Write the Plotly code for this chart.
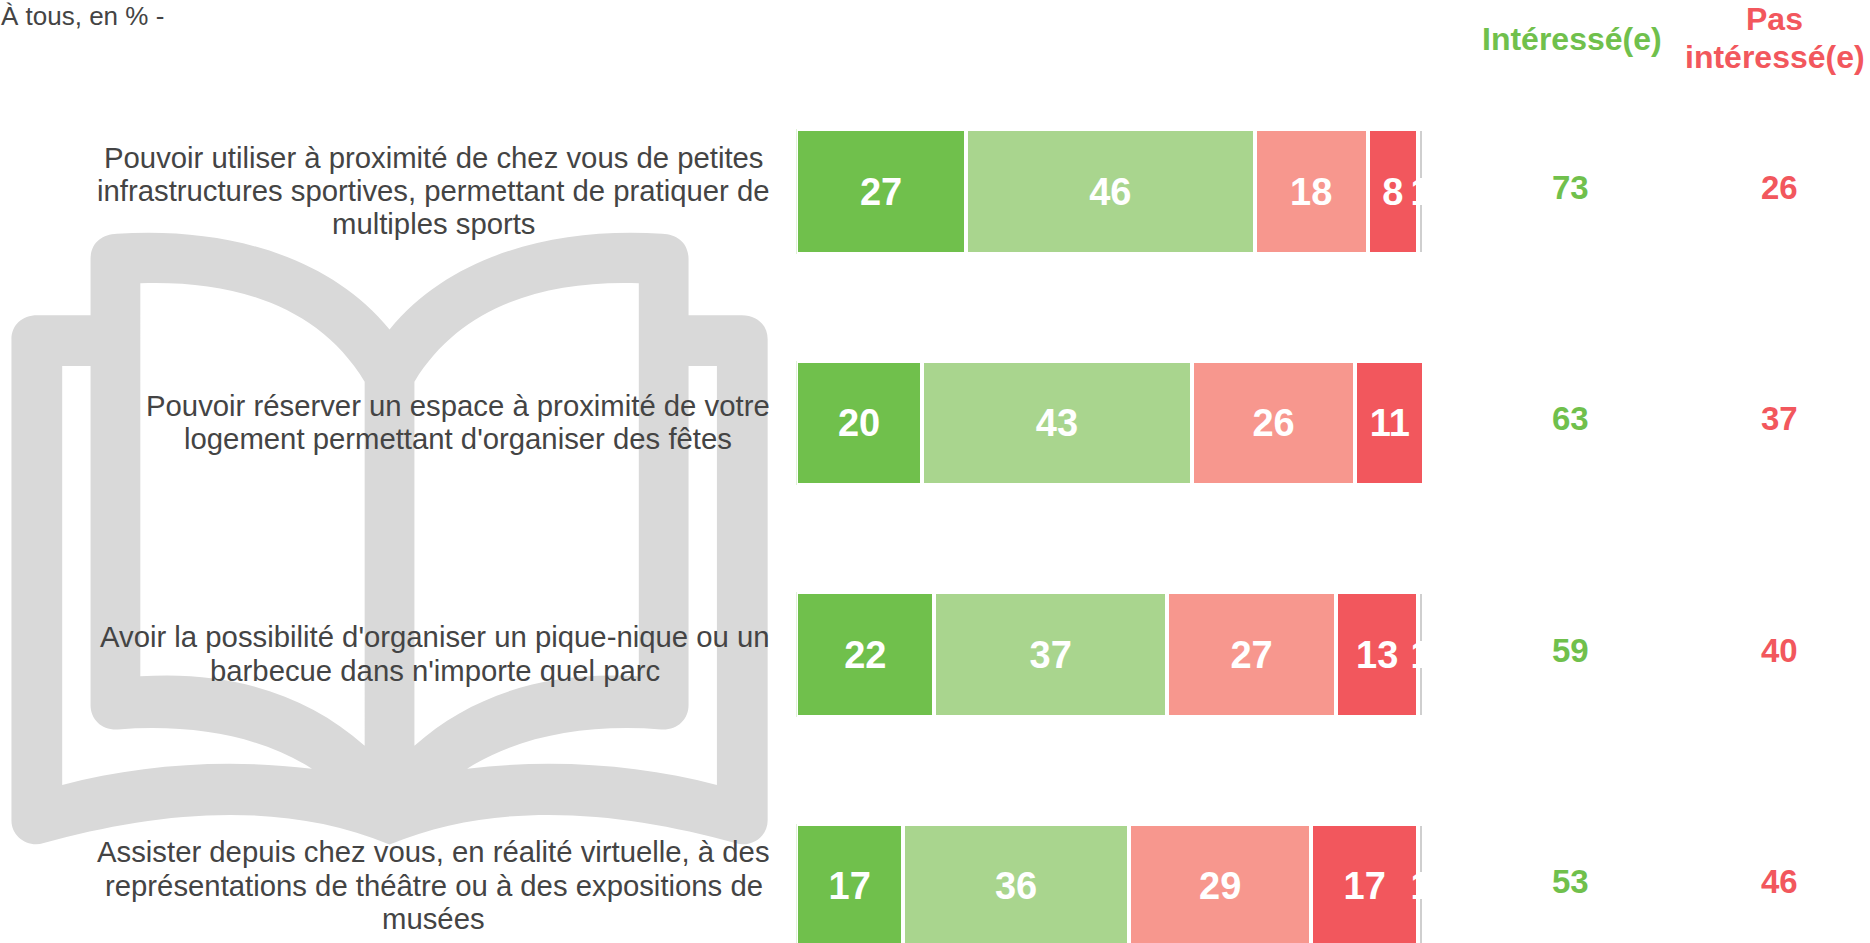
import plotly.graph_objects as go

W, H = 1870, 943
FONT = "Liberation Sans, Arial, sans-serif"
GREY_TXT = "#444444"
GREEN = "#70C04C"
RED = "#F2575D"

categories = [
    ["Pouvoir utiliser à proximité de chez vous de petites",
     "infrastructures sportives, permettant de pratiquer de",
     "multiples sports"],
    ["Pouvoir réserver un espace à proximité de votre",
     "logement permettant d'organiser des fêtes"],
    ["Avoir la possibilité d'organiser un pique-nique ou un",
     "barbecue dans n'importe quel parc"],
    ["Assister depuis chez vous, en réalité virtuelle, à des",
     "représentations de théâtre ou à des expositions de",
     "musées"],
]
label_centres = [433.5, 458.3, 434.7, 433.5]
tout_a_fait = [27, 20, 22, 17]
plutot = [46, 43, 37, 36]
plutot_pas = [18, 26, 27, 29]
pas_du_tout = [8, 11, 13, 17]
nsp = [1, None, 1, 1]
interesse = [73, 63, 59, 53]
pas_interesse = [26, 37, 40, 46]

series = [
    (tout_a_fait, "#70C04C"),
    (plutot, "#A9D58E"),
    (plutot_pas, "#F7978E"),
    (pas_du_tout, "#F2575D"),
    (nsp, "#CFCFCF"),
]

fig = go.Figure()
for vals, col in series:
    fig.add_trace(go.Bar(
        y=list(range(4)), x=vals, orientation="h", marker=dict(color=col, line=dict(color="white", width=4)),
        text=["" if v is None else str(v) for v in vals], textposition="inside",
        insidetextanchor="middle", constraintext="none",
        textfont=dict(family=FONT, size=38, color="white", weight="bold"),
        hoverinfo="skip", cliponaxis=True,
    ))


# ---- decorative book icon, drawn behind everything ----
def pt(zx, zy):
    x = zx / 2.01
    y = 220 + zy / 2.165
    return f"{x / W:.5f},{1 - y / H:.5f}"

def mirror(zx):
    return 1566 - zx

def path(cmds):
    out = []
    for c in cmds:
        out.append(c[0] + " ".join(pt(*p) for p in c[1:]))
    return " ".join(out)

outer = [
    ("M", (75, 206)), ("L", (182, 206)), ("L", (182, 85)),
    ("C", (182, 50), (205, 31), (235, 30)),
    ("C", (450, 15), (660, 75), (783, 237)),
    ("C", (906, 75), (1116, 15), (1331, 30)),
    ("C", (1361, 31), (1384, 50), (1384, 85)),
    ("L", (1384, 206)), ("L", (1491, 206)),
    ("C", (1522, 206), (1543, 228), (1543, 258)),
    ("L", (1543, 1300)),
    ("C", (1543, 1335), (1510, 1360), (1478, 1349)),
    ("C", (1250, 1280), (1000, 1255), (783, 1352)),
    ("C", (566, 1255), (316, 1280), (88, 1349)),
    ("C", (56, 1360), (23, 1335), (23, 1300)),
    ("L", (23, 258)),
    ("C", (23, 228), (44, 206), (75, 206)),
    ("Z",),
]
hole_a = [
    ("M", (282, 137)), ("C", (470, 130), (640, 185), (733, 350)),
    ("L", (733, 1138)), ("C", (620, 1030), (470, 975), (282, 988)), ("Z",),
]
hole_c = [
    ("M", (125, 316)), ("L", (182, 316)), ("L", (182, 1050)),
    ("C", (182, 1082), (205, 1105), (237, 1103)),
    ("C", (390, 1090), (530, 1120), (627, 1188)),
    ("C", (450, 1165), (280, 1180), (125, 1223)), ("Z",),
]
def flip(cmds):
    return [(c[0], *[(mirror(p[0]), p[1]) for p in c[1:]]) for c in cmds]

icon = " ".join(path(c) for c in (outer, hole_a, flip(hole_a), hole_c, flip(hole_c)))
shapes = [dict(type="path", xref="paper", yref="paper", path=icon, fillcolor="#D9D9D9",
               line=dict(width=0), layer="below", fillrule="evenodd")]

annotations = []
for i, lines in enumerate(categories):
    for j, line in enumerate(lines):
        annotations.append(dict(xref="paper", yref="y", x=label_centres[i] / W, y=i,
                                yshift=1 - (j - (len(lines) - 1) / 2) * 33.4,
                                text=line, showarrow=False, xanchor="center", yanchor="middle",
                                font=dict(family=FONT, size=29.3, color=GREY_TXT)))
    annotations.append(dict(xref="paper", yref="y", x=1570.5 / W, y=i, yshift=4.5, text=str(interesse[i]), showarrow=False,
                            xanchor="center", yanchor="middle",
                            font=dict(family=FONT, size=33, color=GREEN, weight="bold")))
    annotations.append(dict(xref="paper", yref="y", x=1779 / W, y=i, yshift=4.5, text=str(pas_interesse[i]), showarrow=False,
                            xanchor="center", yanchor="middle",
                            font=dict(family=FONT, size=33, color=RED, weight="bold")))
annotations += [
    dict(xref="paper", yref="paper", x=-1.5 / W, y=1 - 15.5 / H, text="À tous, en % -", showarrow=False,
         xanchor="left", yanchor="middle", font=dict(family=FONT, size=26, color=GREY_TXT)),
    dict(xref="paper", yref="paper", x=1572 / W, y=1 - 39 / H, text="Intéressé(e)", showarrow=False,
         xanchor="center", yanchor="middle", font=dict(family=FONT, size=32, color=GREEN, weight="bold")),
    dict(xref="paper", yref="paper", x=1774.5 / W, y=1 - 19 / H, text="Pas", showarrow=False,
         xanchor="center", yanchor="middle", font=dict(family=FONT, size=32, color=RED, weight="bold")),
    dict(xref="paper", yref="paper", x=1774.5 / W, y=1 - 57 / H, text="intéressé(e)", showarrow=False,
         xanchor="center", yanchor="middle", font=dict(family=FONT, size=32, color=RED, weight="bold")),
]

fig.update_layout(
    width=W, height=H, margin=dict(l=0, r=0, t=0, b=0, pad=0), autosize=False,
    paper_bgcolor="white", plot_bgcolor="rgba(0,0,0,0)",
    barmode="stack", bargap=0.462, showlegend=False,
    xaxis=dict(domain=[796.3 / W, 1424.3 / W], range=[0, 100], visible=False, fixedrange=True),
    yaxis=dict(domain=[0, 1 - 75.75 / H], range=[3.246, -0.5], visible=False, fixedrange=True),
    shapes=shapes, annotations=annotations,
)

fig.write_html("out.html", config={"displayModeBar": False},
               post_script="document.body.style.margin='0';document.body.style.overflow='hidden';")
